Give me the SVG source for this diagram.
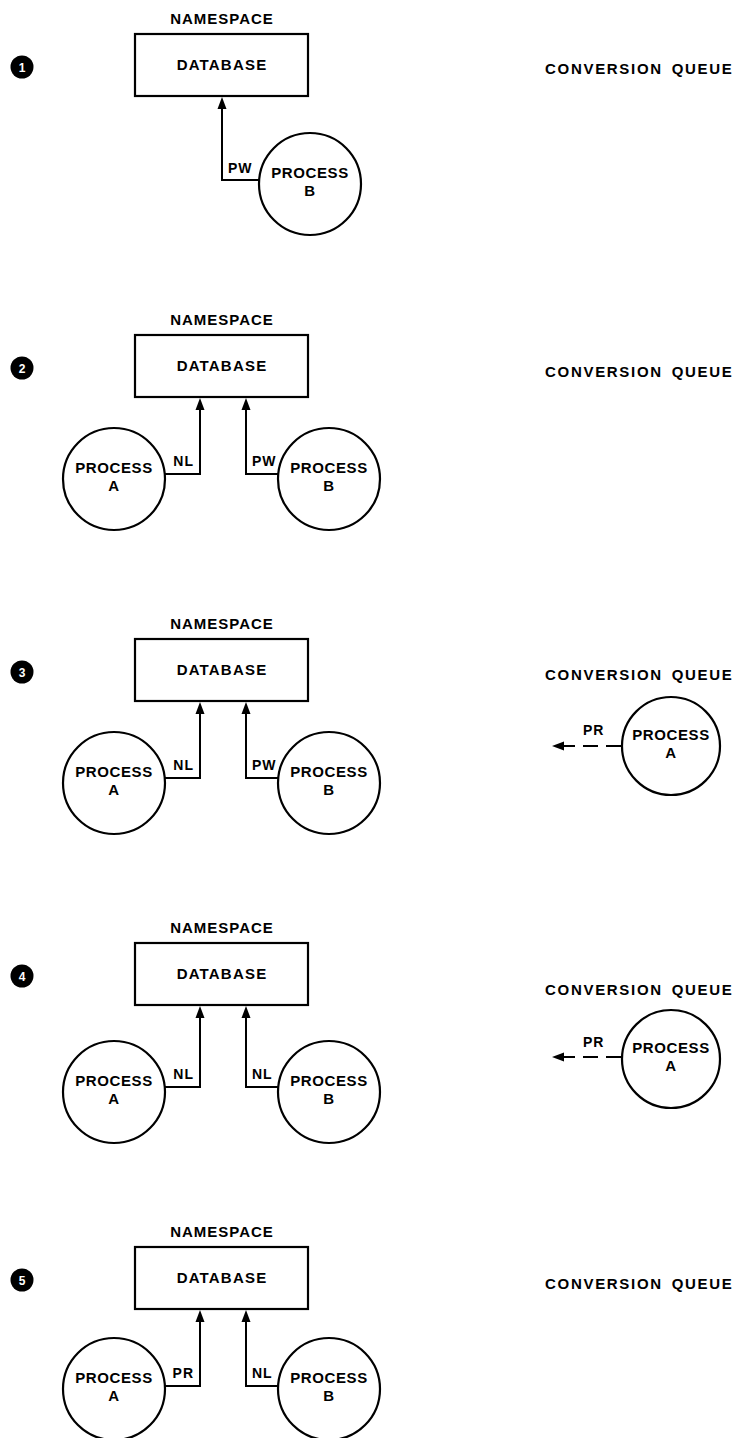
<svg xmlns="http://www.w3.org/2000/svg" width="734" height="1438" viewBox="0 0 734 1438">
<style>
text{font-family:"Liberation Sans",Arial,sans-serif;font-weight:bold;fill:#000}
.ns{font-size:15px;letter-spacing:1px;text-anchor:middle}
.db{font-size:15px;letter-spacing:1.2px;text-anchor:middle}
.cq{font-size:15px;letter-spacing:1.7px;word-spacing:3px}
.pt{font-size:15px;letter-spacing:0.6px;text-anchor:middle}
.lb{font-size:14px;letter-spacing:1px}
.box{fill:#fff;stroke:#000;stroke-width:2.2}
.proc{fill:#fff;stroke:#000;stroke-width:2.2}
.ln{fill:none;stroke:#000;stroke-width:2}
.ah{fill:#000}
.badge{fill:#000}
.bn{font-size:12px;fill:#fff;text-anchor:middle}
</style>

<!-- Panel 1 -->
<g id="panel1">
  <g id="badge1"><circle class="badge" cx="22" cy="67" r="11.5"/><text class="bn" x="22" y="71.5">1</text></g>
  <g id="db1"><text class="ns" x="222" y="24">NAMESPACE</text><rect class="box" x="135" y="34" width="173" height="62"/><text class="db" x="222" y="70">DATABASE</text></g>
  <text class="cq" x="545" y="74">CONVERSION QUEUE</text>
  <g id="p1b"><circle class="proc" cx="310" cy="184" r="51"/><text class="pt" x="310" y="178">PROCESS</text><text class="pt" x="310" y="196">B</text></g>
</g>

<!-- Panel 2 -->
<g id="panel2">
  <g id="badge2"><circle class="badge" cx="22" cy="368" r="11.5"/><text class="bn" x="22" y="372.5">2</text></g>
  <g id="db2"><text class="ns" x="222" y="325">NAMESPACE</text><rect class="box" x="135" y="335" width="173" height="62"/><text class="db" x="222" y="371">DATABASE</text></g>
  <text class="cq" x="545" y="377">CONVERSION QUEUE</text>
  <g id="p2a"><circle class="proc" cx="114" cy="479" r="51"/><text class="pt" x="114" y="473">PROCESS</text><text class="pt" x="114" y="491">A</text></g>
  <g id="p2b"><circle class="proc" cx="329" cy="479" r="51"/><text class="pt" x="329" y="473">PROCESS</text><text class="pt" x="329" y="491">B</text></g>
</g>

<!-- Panel 3 -->
<g id="panel3">
  <g id="badge3"><circle class="badge" cx="22" cy="672" r="11.5"/><text class="bn" x="22" y="676.5">3</text></g>
  <g id="db3"><text class="ns" x="222" y="629">NAMESPACE</text><rect class="box" x="135" y="639" width="173" height="62"/><text class="db" x="222" y="675">DATABASE</text></g>
  <text class="cq" x="545" y="680">CONVERSION QUEUE</text>
  <g id="p3a"><circle class="proc" cx="114" cy="783" r="51"/><text class="pt" x="114" y="777">PROCESS</text><text class="pt" x="114" y="795">A</text></g>
  <g id="p3b"><circle class="proc" cx="329" cy="783" r="51"/><text class="pt" x="329" y="777">PROCESS</text><text class="pt" x="329" y="795">B</text></g>
  <g id="p3q"><circle class="proc" cx="671" cy="746" r="49"/><text class="pt" x="671" y="740">PROCESS</text><text class="pt" x="671" y="758">A</text></g>
</g>

<!-- Panel 4 -->
<g id="panel4">
  <g id="badge4"><circle class="badge" cx="22" cy="976" r="11.5"/><text class="bn" x="22" y="980.5">4</text></g>
  <g id="db4"><text class="ns" x="222" y="933">NAMESPACE</text><rect class="box" x="135" y="943" width="173" height="62"/><text class="db" x="222" y="979">DATABASE</text></g>
  <text class="cq" x="545" y="995">CONVERSION QUEUE</text>
  <g id="p4a"><circle class="proc" cx="114" cy="1092" r="51"/><text class="pt" x="114" y="1086">PROCESS</text><text class="pt" x="114" y="1104">A</text></g>
  <g id="p4b"><circle class="proc" cx="329" cy="1092" r="51"/><text class="pt" x="329" y="1086">PROCESS</text><text class="pt" x="329" y="1104">B</text></g>
  <g id="p4q"><circle class="proc" cx="671" cy="1059" r="49"/><text class="pt" x="671" y="1053">PROCESS</text><text class="pt" x="671" y="1071">A</text></g>
</g>

<!-- Panel 5 -->
<g id="panel5">
  <g id="badge5"><circle class="badge" cx="22" cy="1280" r="11.5"/><text class="bn" x="22" y="1284.5">5</text></g>
  <g id="db5"><text class="ns" x="222" y="1237">NAMESPACE</text><rect class="box" x="135" y="1247" width="173" height="62"/><text class="db" x="222" y="1283">DATABASE</text></g>
  <text class="cq" x="545" y="1289">CONVERSION QUEUE</text>
  <g id="p5a"><circle class="proc" cx="114" cy="1389" r="51"/><text class="pt" x="114" y="1383">PROCESS</text><text class="pt" x="114" y="1401">A</text></g>
  <g id="p5b"><circle class="proc" cx="329" cy="1389" r="51"/><text class="pt" x="329" y="1383">PROCESS</text><text class="pt" x="329" y="1401">B</text></g>
</g>

<!-- Connectors -->
<g id="connectors">
  <!-- panel 1 -->
  <path class="ln" d="M259 180 H222 V107"/>
  <polygon class="ah" points="222,97 217.5,109 226.5,109"/>
  <text class="lb" x="228" y="173">PW</text>
  <!-- panel 2 -->
  <path class="ln" d="M165 474 H200 V408"/>
  <polygon class="ah" points="200,398 195.5,410 204.5,410"/>
  <text class="lb" x="194" y="466" text-anchor="end">NL</text>
  <path class="ln" d="M278 474 H246 V408"/>
  <polygon class="ah" points="246,398 241.5,410 250.5,410"/>
  <text class="lb" x="252" y="466">PW</text>
  <!-- panel 3 -->
  <path class="ln" d="M165 778 H200 V712"/>
  <polygon class="ah" points="200,702 195.5,714 204.5,714"/>
  <text class="lb" x="194" y="770" text-anchor="end">NL</text>
  <path class="ln" d="M278 778 H246 V712"/>
  <polygon class="ah" points="246,702 241.5,714 250.5,714"/>
  <text class="lb" x="252" y="770">PW</text>
  <path class="ln" d="M622 746 H606 M598 746 H583 M575 746 H562"/>
  <polygon class="ah" points="552,746 564,741.5 564,750.5"/>
  <text class="lb" x="583" y="735">PR</text>
  <!-- panel 4 -->
  <path class="ln" d="M165 1087 H200 V1016"/>
  <polygon class="ah" points="200,1006 195.5,1018 204.5,1018"/>
  <text class="lb" x="194" y="1079" text-anchor="end">NL</text>
  <path class="ln" d="M278 1087 H246 V1016"/>
  <polygon class="ah" points="246,1006 241.5,1018 250.5,1018"/>
  <text class="lb" x="252" y="1079">NL</text>
  <path class="ln" d="M622 1057 H606 M598 1057 H583 M575 1057 H562"/>
  <polygon class="ah" points="552,1057 564,1052.5 564,1061.5"/>
  <text class="lb" x="583" y="1047">PR</text>
  <!-- panel 5 -->
  <path class="ln" d="M165 1386 H200 V1320"/>
  <polygon class="ah" points="200,1310 195.5,1322 204.5,1322"/>
  <text class="lb" x="194" y="1378" text-anchor="end">PR</text>
  <path class="ln" d="M278 1386 H246 V1320"/>
  <polygon class="ah" points="246,1310 241.5,1322 250.5,1322"/>
  <text class="lb" x="252" y="1378">NL</text>
</g>
</svg>
